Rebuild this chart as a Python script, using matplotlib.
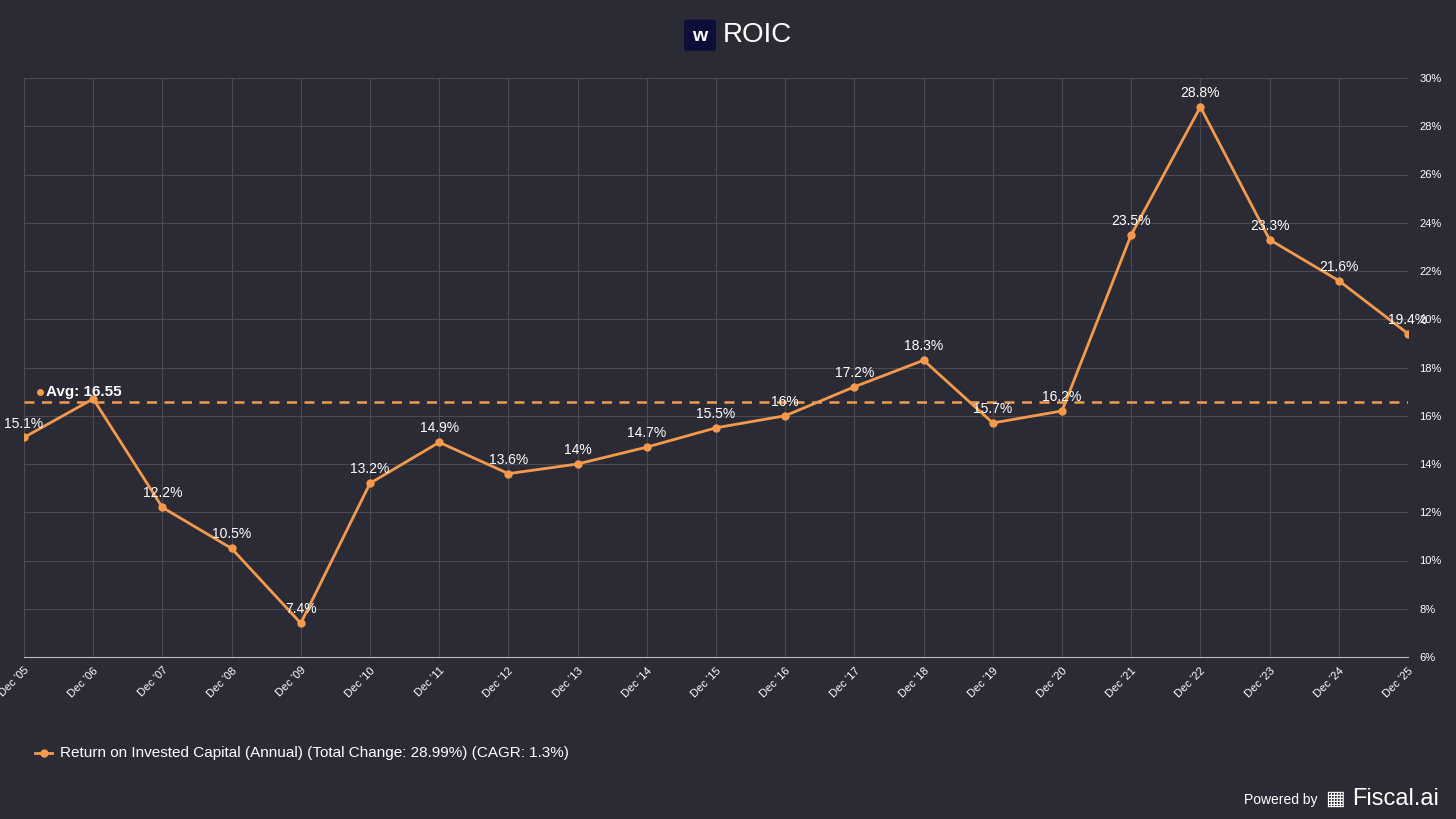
import matplotlib.pyplot as plt
from matplotlib.patches import FancyBboxPatch

years = ["Dec '%02d" % y for y in range(5, 26)]
roic = [15.1, 16.7, 12.2, 10.5, 7.4, 13.2, 14.9, 13.6, 14, 14.7, 15.5, 16, 17.2, 18.3,
        15.7, 16.2, 23.5, 28.8, 23.3, 21.6, 19.4]
labels = ["15.1%", "", "12.2%", "10.5%", "7.4%", "13.2%", "14.9%", "13.6%", "14%", "14.7%",
          "15.5%", "16%", "17.2%", "18.3%", "15.7%", "16.2%", "23.5%", "28.8%", "23.3%",
          "21.6%", "19.4%"]
avg = 16.55

bg = '#2b2b35'
orange = '#f59a4c'
plt.rcParams['font.family'] = ['Liberation Sans', 'DejaVu Sans']

fig = plt.figure(figsize=(14.56, 8.19), dpi=100, facecolor=bg)
ax = fig.add_axes([24/1456, 1-657/819, (1408-24)/1456, (657-78)/819], facecolor=bg)

x = list(range(len(years)))
ax.plot(x, roic, color=orange, lw=2, marker='o', ms=5, zorder=3)
for xi, v, l in zip(x, roic, labels):
    if l:
        ax.annotate(l, (xi, v), xytext=(0, 5), textcoords='offset points', ha='center',
                    va='bottom', color='white', fontsize=10)
ax.axhline(avg, color=orange, lw=1.8, ls=(0, (4, 3)), zorder=2)
ax.plot([0.23], [17.0], marker='o', ms=4, color=orange, clip_on=False)
ax.text(0.32, 17.0, 'Avg: 16.55', color='white', fontsize=11, fontweight='bold', va='center')

ax.set_xlim(0, len(years) - 1)
ax.set_ylim(6, 30)
ax.set_yticks(range(6, 31, 2))
ax.set_yticklabels(['%d%%' % t for t in range(6, 31, 2)])
ax.yaxis.tick_right()
ax.set_xticks(x)
ax.set_xticklabels(years, rotation=45, ha='right', rotation_mode='anchor')
ax.tick_params(colors='white', labelsize=8, length=0)
ax.tick_params(axis='y', pad=8)
ax.tick_params(axis='x', pad=6)
ax.grid(color='#4a4a55', lw=0.8)
for s in ax.spines.values():
    s.set_visible(False)
ax.spines['bottom'].set_visible(True)
ax.spines['bottom'].set_color('#bbbbbb')

# title with logo
fig.text(723/1456, 0.957, 'ROIC', color='white', fontsize=20, va='center')
fig.patches.append(FancyBboxPatch((687/1456, 0.94), 26/1456, 0.034,
                                  boxstyle='round,pad=0.002', fc='#0d0d3a', ec='none',
                                  transform=fig.transFigure))
fig.text(700/1456, 0.955, 'w', color='white', fontsize=14, fontweight='bold',
         ha='center', va='center')

# legend
fig.lines.append(plt.Line2D([35/1456, 52/1456], [1-753/819]*2, color=orange, lw=2,
                            transform=fig.transFigure))
fig.lines.append(plt.Line2D([43.5/1456], [1-753/819], color=orange, marker='o', ms=5,
                            transform=fig.transFigure))
fig.text(60/1456, 1-753/819, 'Return on Invested Capital (Annual) (Total Change: 28.99%) (CAGR: 1.3%)',
         color='white', fontsize=11, va='center')

fig.text(1318/1456, 1-800/819, 'Powered by', color='white', fontsize=10, ha='right', va='center')
fig.text(1352/1456, 1-799/819, 'Fiscal.ai', color='white', fontsize=17, ha='left', va='center')
fig.text(1335/1456, 1-799/819, '▦', color='white', fontsize=15, ha='center', va='center',
         family=['DejaVu Sans'])

fig.savefig('out.png', dpi=100, facecolor=bg)
